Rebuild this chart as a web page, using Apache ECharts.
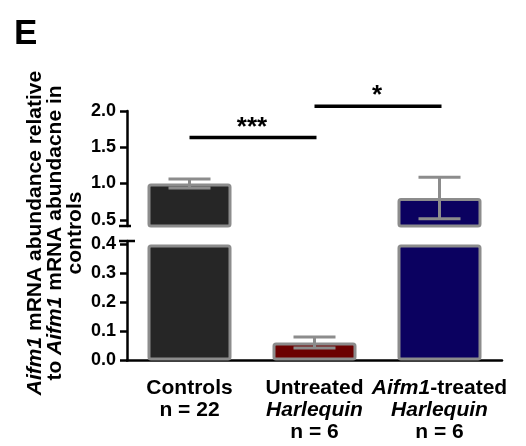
<!DOCTYPE html>
<html>
<head>
<meta charset="utf-8">
<script src="https://cdn.jsdelivr.net/npm/echarts@6/dist/echarts.min.js"></script>
<style>
html,body{margin:0;padding:0;background:#fff;}
#chart{width:526px;height:446px;}
</style>
</head>
<body>
<div id="chart"></div>
<script>
// ---- data ----
const categories = ['Controls', 'Untreated Harlequin', 'Aifm1-treated Harlequin'];
const categoryLabels = [
  '{n|Controls}\n{n|n = 22}',
  '{n|Untreated}\n{i|Harlequin}\n{n|n = 6}',
  '{i|Aifm1}{n|-treated}\n{i|Harlequin}\n{n|n = 6}'
];
const means = [1.0, 0.062, 0.80];
const sem = [0.063, 0.019, 0.285];
const barColors = ['#262626', '#6c0000', '#0b0160'];
const upperTicks = [0.5, 1.0, 1.5, 2.0];
const lowerTicks = [0.0, 0.1, 0.2, 0.3, 0.4];
const brackets = [[0, 1, 1.636], [1, 2, 2.067]];
const bracketLabels = ['***', '*'];

// ---- layout / style ----
const FONT = 'Liberation Sans';
const upperMin = 0.414, upperMax = 2.0;
const lowerMax = 0.412, lowerBarCap = 0.4;
const gridLeft = 127, gridWidth = 375;
const grey = '#8c8c8c';

const chart = echarts.init(document.getElementById('chart'), null, {renderer: 'canvas'});

function yAxisCommon(ticks) {
  return {
    type: 'value',
    splitLine: {show: false},
    axisLine: {show: true, lineStyle: {color: '#000', width: 2.5}},
    axisTick: {show: true, length: 7, lineStyle: {color: '#000', width: 2.5}, customValues: ticks},
    axisLabel: {
      customValues: ticks, margin: 11, color: '#000', fontSize: 18, fontWeight: 'bold', fontFamily: FONT,
      formatter: v => Number(v).toFixed(1)
    }
  };
}

function errRender(params, api) {
  const x = api.value(0), m = api.value(1), e = api.value(2);
  const hi = api.coord([x, m + e]);
  const lo = api.coord([x, m - e]);
  const hw = 21;
  const st = {stroke: grey, lineWidth: 3};
  return {
    type: 'group',
    children: [
      {type: 'line', shape: {x1: hi[0], y1: hi[1], x2: lo[0], y2: lo[1]}, style: st},
      {type: 'line', shape: {x1: hi[0] - hw, y1: hi[1], x2: hi[0] + hw, y2: hi[1]}, style: st},
      {type: 'line', shape: {x1: lo[0] - hw, y1: lo[1], x2: lo[0] + hw, y2: lo[1]}, style: st}
    ]
  };
}

const upperErr = means.map((m, i) => m > upperMin ? [i, m, sem[i]] : null).filter(Boolean);
const lowerErr = means.map((m, i) => m <= lowerBarCap ? [i, m, sem[i]] : null).filter(Boolean);

const barStyle = {borderColor: grey, borderWidth: 3, borderRadius: 2};

const richBase = {fontSize: 21, fontWeight: 'bold', fontFamily: FONT, lineHeight: 22, color: '#000'};

chart.setOption({
  animation: false,
  backgroundColor: '#fff',
  grid: [
    {left: gridLeft, width: gridWidth, top: 111, height: 115},
    {left: gridLeft, width: gridWidth, top: 241, height: 119.5}
  ],
  xAxis: [
    {type: 'category', gridIndex: 0, data: categories, show: false},
    {
      type: 'category', gridIndex: 1, data: categories,
      axisLine: {lineStyle: {color: '#000', width: 2.5}},
      axisTick: {alignWithLabel: true, length: 6, lineStyle: {color: '#000', width: 2.5}},
      axisLabel: {
        margin: 17, interval: 0, align: 'center',
        formatter: (v, idx) => categoryLabels[idx],
        rich: {
          n: Object.assign({}, richBase),
          i: Object.assign({}, richBase, {fontStyle: 'italic'})
        }
      }
    }
  ],
  yAxis: [
    Object.assign(yAxisCommon(upperTicks), {gridIndex: 0, min: upperMin, max: upperMax}),
    Object.assign(yAxisCommon(lowerTicks), {gridIndex: 1, min: 0, max: lowerMax})
  ],
  series: [
    {
      type: 'bar', xAxisIndex: 0, yAxisIndex: 0, barWidth: 84, itemStyle: barStyle,
      data: means.map((m, i) => m > upperMin ? {value: m, itemStyle: {color: barColors[i]}} : '-')
    },
    {
      type: 'bar', xAxisIndex: 1, yAxisIndex: 1, barWidth: 84, itemStyle: barStyle,
      data: means.map((m, i) => ({value: Math.min(m, lowerBarCap), itemStyle: {color: barColors[i]}}))
    },
    {type: 'custom', xAxisIndex: 0, yAxisIndex: 0, renderItem: errRender, data: upperErr, z: 5},
    {type: 'custom', xAxisIndex: 1, yAxisIndex: 1, renderItem: errRender, data: lowerErr, z: 5},
    {
      type: 'custom', xAxisIndex: 0, yAxisIndex: 0, z: 6, clip: false, data: brackets,
      renderItem: (params, api) => {
        const a = api.coord([api.value(0), api.value(2)]);
        const b = api.coord([api.value(1), api.value(2)]);
        return {
          type: 'group',
          children: [
            {type: 'line', shape: {x1: a[0], y1: a[1], x2: b[0] + 2, y2: b[1]}, style: {stroke: '#000', lineWidth: 3.5}},
            {type: 'text', x: (a[0] + b[0]) / 2, y: a[1] - 10,
             style: {text: bracketLabels[params.dataIndex], fill: '#000', fontSize: 26, fontWeight: 'bold',
                     fontFamily: FONT, align: 'center', verticalAlign: 'middle'}}
          ]
        };
      }
    }
  ]
});

// axis-break caps and titles
const yUpperBottom = chart.convertToPixel({yAxisIndex: 0}, upperMin);
const yLowerTop = chart.convertToPixel({yAxisIndex: 1}, lowerMax);
chart.setOption({
  graphic: [
    {type: 'line', shape: {x1: gridLeft - 8, y1: yUpperBottom, x2: gridLeft + 4, y2: yUpperBottom},
     style: {stroke: '#000', lineWidth: 2.5}, z: 10},
    {type: 'line', shape: {x1: gridLeft - 8, y1: yLowerTop, x2: gridLeft + 8, y2: yLowerTop},
     style: {stroke: '#000', lineWidth: 2.5}, z: 10},
    {type: 'text', x: 14, y: 34,
     style: {text: 'E', fill: '#000', fontSize: 35, fontWeight: 'bold', fontFamily: FONT, verticalAlign: 'middle'}},
    {type: 'text', x: 55, y: 233, rotation: Math.PI / 2,
     style: {
       text: '{i|Aifm1}{n| mRNA abundance relative}\n{n|to }{i|Aifm1}{n| mRNA abundacne in}\n{n|controls}',
       fill: '#000', fontSize: 21, fontWeight: 'bold', fontFamily: FONT, lineHeight: 20,
       align: 'center', verticalAlign: 'middle',
       rich: {
         n: {fontSize: 21, fontWeight: 'bold', fontFamily: FONT, lineHeight: 20, fill: '#000'},
         i: {fontSize: 21, fontWeight: 'bold', fontStyle: 'italic', fontFamily: FONT, lineHeight: 20, fill: '#000'}
       }
     }}
  ]
});
</script>
</body>
</html>
